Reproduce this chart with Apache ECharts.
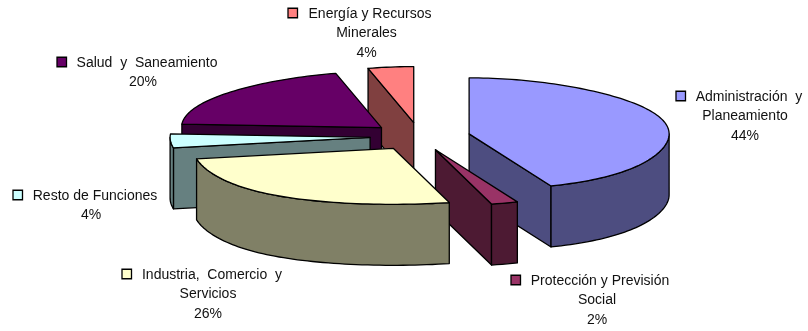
<!DOCTYPE html>
<html>
<head>
<meta charset="utf-8">
<style>html,body{margin:0;padding:0;background:#fff}#chart{width:808px;height:331px}</style>
<script src="https://cdn.jsdelivr.net/npm/echarts@6/dist/echarts.min.js"></script>
</head>
<body>
<div id="chart"></div>
<script>
// Budget share by function, clockwise from twelve o'clock
const sliceNames = ['Administración y Planeamiento', 'Protección y Previsión Social', 'Industria, Comercio y Servicios', 'Resto de Funciones', 'Salud y Saneamiento', 'Energía y Recursos Minerales'];
const sliceValues = [44, 2, 26, 4, 20, 4];
const topColors = ['#9999FF', '#993366', '#FFFFCC', '#CCFFFF', '#660066', '#FF8080'];
const wallColors = ['#4D4D80', '#4D1A33', '#808066', '#668080', '#330033', '#804040'];
const labelLines = [
  ['Administración  y', 'Planeamiento'],
  ['Protección y Previsión', 'Social'],
  ['Industria,  Comercio  y', 'Servicios'],
  ['Resto de Funciones'],
  ['Salud  y  Saneamiento'],
  ['Energía y Recursos', 'Minerales']
];
// Painter's order: far slices first
const drawOrder = [5, 4, 3, 0, 1, 2];

// Projection of the tilted disc; the near edge spreads wider than the far edge narrows
const center = [420, 136.5], rx = 200, ry = 56, depth = 61, explode = 0.25;
const spreadNear = 0.14, spreadFar = 0.09;
// Label block layout: key left edge, key centre y, centre x of first line and of the others
const labelLayout = [
  { keyX: 676, x1: 749, x2: 745, y: 96 },
  { keyX: 511, x1: 600, x2: 597, y: 280 },
  { keyX: 122, x1: 212, x2: 208, y: 274 },
  { keyX: 13, x1: 95, x2: 91, y: 195 },
  { keyX: 57, x1: 147, x2: 143, y: 62 },
  { keyX: 288, x1: 370, x2: 366.5, y: 13 }
];
const lineStep = 19.5, keySize = 9.5, textNudge = 0.8;

const rad = d => d * Math.PI / 180;
const total = sliceValues.reduce((a, b) => a + b, 0);
const sweeps = [];
sliceValues.reduce((acc, v) => { sweeps.push([acc, acc + v / total * 360]); return acc + v / total * 360; }, 0);

function rim(apex, deg, drop) {
  const s = Math.sin(rad(deg)), c = Math.cos(rad(deg));
  const spread = c < 0 ? spreadNear : spreadFar;
  return [apex[0] + rx * s * (1 - spread * c * c * c), apex[1] - ry * c + drop];
}
function arc(apex, a, b, drop) {
  const pts = [], n = Math.max(2, Math.ceil((b - a) / 1.5));
  for (let i = 0; i <= n; i++) pts.push(rim(apex, a + (b - a) * i / n, drop));
  return pts;
}
function poly(points, fill) {
  return { type: 'polygon', shape: { points }, style: { fill, stroke: '#000', lineWidth: 1.3, lineJoin: 'round' } };
}
function renderSlice(params) {
  const i = drawOrder[params.dataIndex];
  const [a, b] = sweeps[i];
  const mid = rad((a + b) / 2);
  const apex = [center[0] + explode * rx * Math.sin(mid), center[1] - explode * ry * Math.cos(mid)];
  const base = [apex[0], apex[1] + depth];
  const kids = [];
  // Cut faces that turn toward the viewer
  if (Math.sin(rad(a)) < -1e-6) kids.push(poly([apex, rim(apex, a, 0), rim(apex, a, depth), base], wallColors[i]));
  if (Math.sin(rad(b)) > 1e-6) kids.push(poly([apex, rim(apex, b, 0), rim(apex, b, depth), base], wallColors[i]));
  // Outer wall, front half of the rim only
  const wa = Math.max(a, 90), wb = Math.min(b, 270);
  if (wb > wa) kids.push(poly(arc(apex, wa, wb, 0).concat(arc(apex, wa, wb, depth).reverse()), wallColors[i]));
  // Top surface
  kids.push(poly([apex].concat(arc(apex, a, b, 0)), topColors[i]));
  return { type: 'group', children: kids };
}
function renderLabel(params) {
  const i = params.dataIndex, lay = labelLayout[i];
  const lines = labelLines[i].concat([sliceValues[i] + '%']);
  const kids = [{
    type: 'rect',
    shape: { x: lay.keyX, y: lay.y - keySize / 2, width: keySize, height: keySize },
    style: { fill: topColors[i], stroke: '#000', lineWidth: 1.3 }
  }];
  lines.forEach((t, k) => kids.push({
    type: 'text',
    style: {
      text: t, x: k === 0 ? lay.x1 : lay.x2, y: lay.y + k * lineStep + textNudge,
      align: 'center', verticalAlign: 'middle', fill: '#111',
      font: '14px "Liberation Sans", Arial, sans-serif'
    }
  }));
  return { type: 'group', children: kids };
}

const chart = echarts.init(document.getElementById('chart'), null, { renderer: 'canvas' });
chart.setOption({
  animation: false,
  backgroundColor: '#fff',
  series: [
    { type: 'custom', coordinateSystem: 'none', renderItem: renderSlice, data: drawOrder.map(i => sliceValues[i]), silent: true },
    { type: 'custom', coordinateSystem: 'none', renderItem: renderLabel, data: sliceNames.map((n, i) => ({ name: n, value: sliceValues[i] })), silent: true }
  ]
});
</script>
</body>
</html>
